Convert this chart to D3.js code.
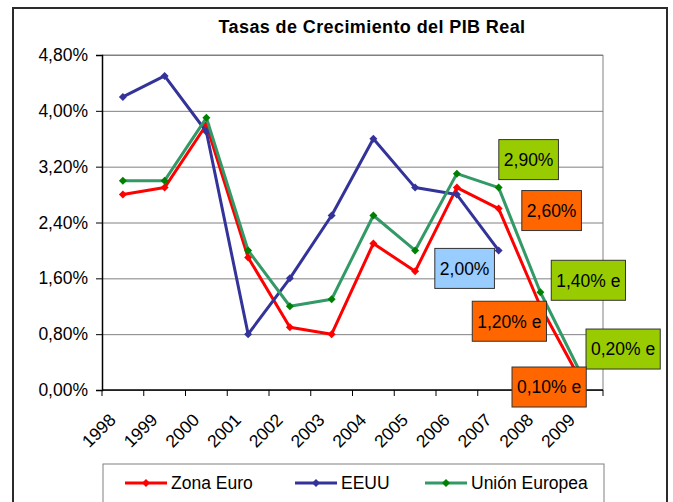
<!DOCTYPE html>
<html>
<head>
<meta charset="utf-8">
<script src="https://cdn.jsdelivr.net/npm/d3@7"></script>
<style>
  body { margin: 0; background: #fff; }
  text { font-family: "Liberation Sans", Arial, sans-serif; }
</style>
</head>
<body>
<div id="chart"></div>
<script>
const years = ["1998", "1999", "2000", "2001", "2002", "2003", "2004", "2005", "2006", "2007", "2008", "2009"];
const zonaEuro = [2.8, 2.9, 3.8, 1.9, 0.9, 0.8, 2.1, 1.7, 2.9, 2.6, 1.2, 0.1];
const eeuu = [4.2, 4.5, 3.7, 0.8, 1.6, 2.5, 3.6, 2.9, 2.8, 2.0, null, null];
const unionEuropea = [3.0, 3.0, 3.9, 2.0, 1.2, 1.3, 2.5, 2.0, 3.1, 2.9, 1.4, 0.2];
const yTicks = [0, 0.8, 1.6, 2.4, 3.2, 4.0, 4.8];
const seriesNames = ["Zona Euro", "EEUU", "Unión Europea"];

// data labels: which series/year and the shown text
const labelSeries = ["Unión Europea", "Zona Euro", "EEUU", "Unión Europea", "Zona Euro", "Unión Europea", "Zona Euro"];
const labelYears = ["2007", "2007", "2007", "2008", "2008", "2009", "2009"];
const labelTexts = ["2,90%", "2,60%", "2,00%", "1,40% e", "1,20% e", "0,20% e", "0,10% e"];

// label box offsets from the point (layout only)
const labelOffsets = [[30, -28], [53, 2], [-34, 18], [48, -12], [-31, 15], [41, -27], [-33, 4]];

const width = 673, height = 502;
const plot = { left: 102, right: 603, top: 55, bottom: 390 };

const series = [
  { name: seriesNames[0], values: zonaEuro, line: "#ff0000", marker: "#ff0000", box: "#ff6600" },
  { name: seriesNames[1], values: eeuu, line: "#333399", marker: "#333399", box: "#99ccff" },
  { name: seriesNames[2], values: unionEuropea, line: "#339966", marker: "#008000", box: "#99cc00" }
];

const fmt = (d) => d.toFixed(2).replace(".", ",") + "%";

const svg = d3
  .select("#chart")
  .append("svg")
  .attr("width", width)
  .attr("height", height);

// outer frame
svg
  .append("rect")
  .attr("x", 13)
  .attr("y", 8)
  .attr("width", 654)
  .attr("height", 520)
  .attr("fill", "#fff")
  .attr("stroke", "#2b2b2b")
  .attr("stroke-width", 2);

// title
svg
  .append("text")
  .attr("x", 372)
  .attr("y", 33)
  .attr("text-anchor", "middle")
  .style("font-size", "18px")
  .style("letter-spacing", "0.4px")
  .style("font-weight", "bold")
  .text("Tasas de Crecimiento del PIB Real");

// Scales
const x = d3.scaleBand().domain(years).range([plot.left, plot.right]).padding(0);
const y = d3.scaleLinear().domain([0, 4.8]).range([plot.bottom, plot.top]);
const cx = (yr) => x(yr) + x.bandwidth() / 2;

// Grid lines
svg
  .append("g")
  .attr("transform", `translate(${plot.left},0)`)
  .call(d3.axisLeft(y).tickValues(yTicks).tickSize(-(plot.right - plot.left)).tickFormat(""))
  .call((g) => g.select(".domain").remove())
  .selectAll("line")
  .attr("stroke", "#808080");

// plot border right/top
svg
  .append("path")
  .attr("d", `M${plot.left},${plot.top}H${plot.right}V${plot.bottom}`)
  .attr("fill", "none")
  .attr("stroke", "#808080");

// Y axis
const yAxis = svg
  .append("g")
  .attr("transform", `translate(${plot.left},0)`)
  .call(d3.axisLeft(y).tickValues(yTicks).tickSize(6).tickPadding(8).tickFormat(fmt));
yAxis.select(".domain").attr("stroke", "#000").attr("stroke-width", 1.5);
yAxis.selectAll("line").attr("stroke", "#000");
yAxis.selectAll("text").style("font-size", "17.5px").attr("fill", "#000");

// X axis (ticks between categories)
const xAxis = svg.append("g").attr("transform", `translate(0,${plot.bottom})`);
xAxis
  .append("line")
  .attr("x1", plot.left)
  .attr("x2", plot.right)
  .attr("stroke", "#000")
  .attr("stroke-width", 1.5);
xAxis
  .selectAll(".tick")
  .data(years.concat(["end"]))
  .enter()
  .append("line")
  .attr("x1", (d, i) => (i < years.length ? x(d) : plot.right))
  .attr("x2", (d, i) => (i < years.length ? x(d) : plot.right))
  .attr("y1", 0)
  .attr("y2", 6)
  .attr("stroke", "#000");
xAxis
  .selectAll(".lbl")
  .data(years)
  .enter()
  .append("text")
  .attr("text-anchor", "end")
  .attr("transform", (d) => `translate(${cx(d) - 6},${31}) rotate(-45)`)
  .style("font-size", "17.5px")
  .text((d) => d);

// Lines + markers
const line = d3
  .line()
  .defined((d) => d != null)
  .x((d, i) => cx(years[i]))
  .y((d) => y(d));

const diamond = d3.symbol(d3.symbolSquare, 32);

series.forEach((s) => {
  svg
    .append("path")
    .datum(s.values)
    .attr("fill", "none")
    .attr("stroke", s.line)
    .attr("stroke-width", 3)
    .attr("stroke-linejoin", "round")
    .attr("d", line);

  svg
    .append("g")
    .selectAll("path")
    .data(s.values.map((v, i) => [years[i], v]).filter((d) => d[1] != null))
    .enter()
    .append("path")
    .attr("d", diamond)
    .attr("transform", (d) => `translate(${cx(d[0])},${y(d[1])}) rotate(45)`)
    .attr("fill", s.marker);
});

// Data labels
labelTexts.forEach((t, i) => {
  const s = series.find((d) => d.name === labelSeries[i]);
  const yi = years.indexOf(labelYears[i]);
  const px = cx(labelYears[i]) + labelOffsets[i][0];
  const py = y(s.values[yi]) + labelOffsets[i][1];
  const g = svg.append("g").attr("transform", `translate(${px},${py})`);
  const txt = g
    .append("text")
    .attr("text-anchor", "middle")
    .attr("dy", "0.36em")
    .style("font-size", "17.5px")
    .text(t);
  const w = txt.node().getComputedTextLength() + 10;
  g.insert("rect", "text")
    .attr("x", -w / 2)
    .attr("y", -20)
    .attr("width", w)
    .attr("height", 40)
    .attr("fill", s.box)
    .attr("stroke", "#333")
    .attr("stroke-width", 1);
});

// Legend
const legend = svg.append("g");
legend
  .append("rect")
  .attr("x", 103)
  .attr("y", 464)
  .attr("width", 501)
  .attr("height", 60)
  .attr("fill", "#fff")
  .attr("stroke", "#808080");

const legendX = [125, 295, 425];
series.forEach((s, i) => {
  const g = legend.append("g").attr("transform", `translate(${legendX[i]},483)`);
  g.append("line")
    .attr("x1", 0)
    .attr("x2", 42)
    .attr("stroke", s.line)
    .attr("stroke-width", 3);
  g.append("path")
    .attr("d", diamond)
    .attr("transform", "translate(21,0) rotate(45)")
    .attr("fill", s.marker);
  g.append("text")
    .attr("x", 46)
    .attr("dy", "0.36em")
    .style("font-size", "17.5px")
    .text(s.name);
});
</script>
</body>
</html>
